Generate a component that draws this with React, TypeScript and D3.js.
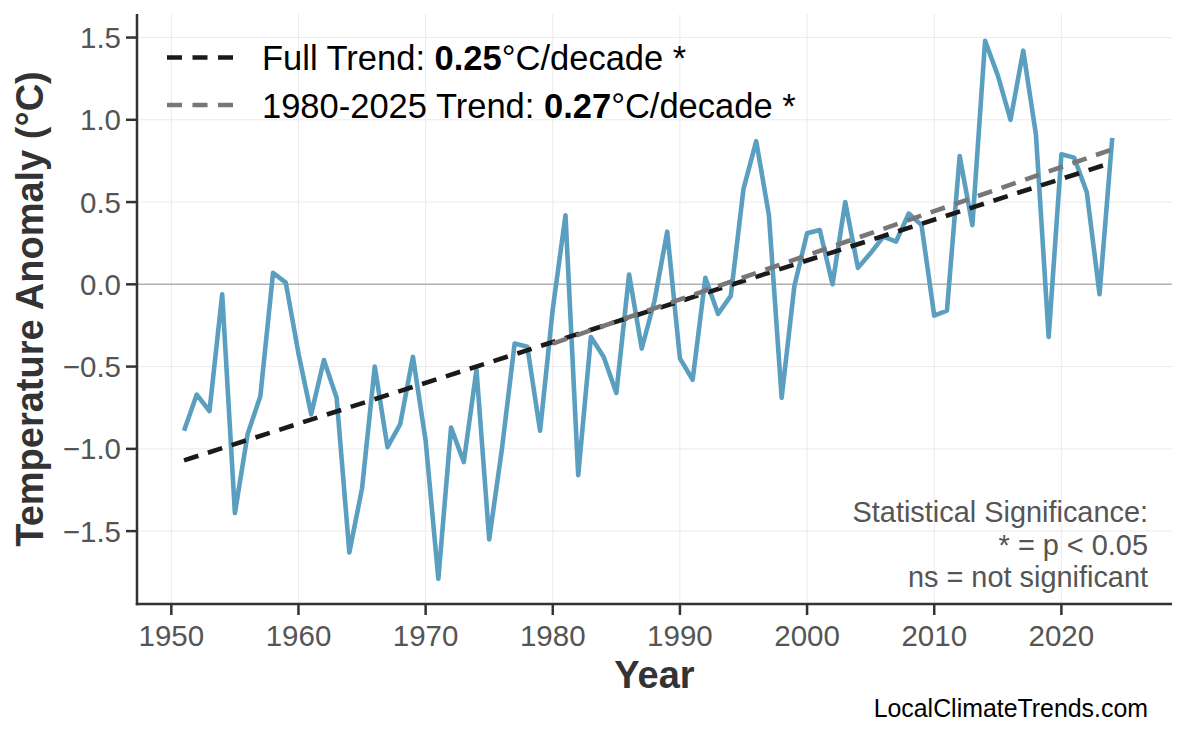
import React from 'react';
import * as d3 from 'd3';

// annual temperature anomaly
const years = [
  1951, 1952, 1953, 1954, 1955, 1956, 1957, 1958, 1959, 1960,
  1961, 1962, 1963, 1964, 1965, 1966, 1967, 1968, 1969, 1970,
  1971, 1972, 1973, 1974, 1975, 1976, 1977, 1978, 1979, 1980,
  1981, 1982, 1983, 1984, 1985, 1986, 1987, 1988, 1989, 1990,
  1991, 1992, 1993, 1994, 1995, 1996, 1997, 1998, 1999, 2000,
  2001, 2002, 2003, 2004, 2005, 2006, 2007, 2008, 2009, 2010,
  2011, 2012, 2013, 2014, 2015, 2016, 2017, 2018, 2019, 2020,
  2021, 2022, 2023, 2024,
];
const anomaly = [
  -0.89, -0.67, -0.77, -0.06, -1.39, -0.91, -0.68, 0.07, 0.01, -0.42,
  -0.79, -0.46, -0.69, -1.63, -1.24, -0.50, -0.99, -0.85, -0.44, -0.95,
  -1.79, -0.87, -1.08, -0.52, -1.55, -1.00, -0.36, -0.38, -0.89, -0.15,
  0.42, -1.16, -0.32, -0.44, -0.66, 0.06, -0.39, -0.10, 0.32, -0.45,
  -0.58, 0.04, -0.18, -0.07, 0.58, 0.87, 0.42, -0.69, -0.01, 0.31,
  0.33, 0.00, 0.50, 0.10, 0.19, 0.29, 0.26, 0.43, 0.36, -0.19,
  -0.16, 0.78, 0.36, 1.48, 1.27, 1.00, 1.42, 0.91, -0.32, 0.79,
  0.77, 0.56, -0.06, 0.89,
];

// trend line end points
const fullTrendYears = [1951, 2024];
const fullTrendValues = [-1.07, 0.74];
const recentTrendYears = [1980, 2024];
const recentTrendValues = [-0.36, 0.82];

const xTicks = [1950, 1960, 1970, 1980, 1990, 2000, 2010, 2020];
const yTicks = [-1.5, -1.0, -0.5, 0.0, 0.5, 1.0, 1.5];

const legendRows = [
  { label: 'Full Trend: ', rate: '0.25', tail: '°C/decade *', color: '#1a1a1a' },
  { label: '1980-2025 Trend: ', rate: '0.27', tail: '°C/decade *', color: '#777777' },
];
const noteLines = ['Statistical Significance:', '* = p < 0.05', 'ns = not significant'];

const W = 1186, H = 737;
const m = { left: 137, right: 1172, top: 14, bottom: 604 };
const font = "'Liberation Sans', Arial, sans-serif";

export default function App() {
  const x = d3.scaleLinear().domain([1947.3, 2028.7]).range([m.left, m.right]);
  const y = d3.scaleLinear().domain([-1.943, 1.643]).range([m.bottom, m.top]);

  const line = d3.line<number>().x((_, i) => x(years[i])).y(d => y(d));
  const trend = (ys: number[]) => d3.line<number>().x((_, i) => x(ys[i])).y(d => y(d));

  const fmtY = (v: number) => d3.format('.1f')(v).replace('-', '\u2212');

  return (
    <div style={{ position: 'absolute', left: 0, top: 0 }}>
      <svg width={W} height={H} style={{ display: 'block', background: '#fff' }} fontFamily={font}>
        {/* grid */}
        {xTicks.map(t => (
          <line key={'gx' + t} x1={x(t)} x2={x(t)} y1={m.top} y2={m.bottom} stroke="#ebebeb" strokeWidth={1} />
        ))}
        {yTicks.map(t => (
          <line key={'gy' + t} x1={m.left} x2={m.right} y1={y(t)} y2={y(t)} stroke="#ebebeb" strokeWidth={1} />
        ))}
        <line x1={m.left} x2={m.right} y1={y(0)} y2={y(0)} stroke="#b0b0b0" strokeWidth={1.6} />

        {/* series */}
        <path d={line(anomaly) || ''} fill="none" stroke="#5a9fc0" strokeWidth={4.6} strokeLinejoin="round" />
        <path d={trend(fullTrendYears)(fullTrendValues) || ''} fill="none" stroke="#1a1a1a" strokeWidth={4.6} strokeDasharray="15 10" />
        <path d={trend(recentTrendYears)(recentTrendValues) || ''} fill="none" stroke="#777777" strokeWidth={4.6} strokeDasharray="15 10" />

        {/* axes */}
        <line x1={m.left} x2={m.left} y1={m.top} y2={m.bottom + 1.25} stroke="#333" strokeWidth={2.5} />
        <line x1={m.left - 1.25} x2={m.right} y1={m.bottom} y2={m.bottom} stroke="#333" strokeWidth={2.5} />
        {xTicks.map(t => (
          <g key={'tx' + t}>
            <line x1={x(t)} x2={x(t)} y1={m.bottom} y2={m.bottom + 11} stroke="#333" strokeWidth={2.5} />
            <text x={x(t)} y={646} textAnchor="middle" fontSize={29.5} fill="#555">{t}</text>
          </g>
        ))}
        {yTicks.map(t => (
          <g key={'ty' + t}>
            <line x1={m.left - 11} x2={m.left} y1={y(t)} y2={y(t)} stroke="#333" strokeWidth={2.5} />
            <text x={121} y={y(t)} dy="0.36em" textAnchor="end" fontSize={29.5} fill="#555">{fmtY(t)}</text>
          </g>
        ))}
        <text x={(m.left + m.right) / 2} y={688} textAnchor="middle" fontSize={38} fontWeight="bold" fill="#333">Year</text>
        <text transform={`translate(43,${(m.top + m.bottom) / 2}) rotate(-90)`} textAnchor="middle" fontSize={38} fontWeight="bold" fill="#333">
          Temperature Anomaly (°C)
        </text>

        {/* legend */}
        {legendRows.map((r, i) => (
          <g key={r.label} transform={`translate(0,${i * 47.5})`}>
            <line x1={167} x2={233} y1={57.5} y2={57.5} stroke={r.color} strokeWidth={4.6} strokeDasharray="15 10.5" />
            <text x={262} y={70} fontSize={34.5} fill="#000">
              {r.label}
              <tspan fontWeight="bold">{r.rate}</tspan>
              {r.tail}
            </text>
          </g>
        ))}

        {/* notes */}
        {noteLines.map((t, i) => (
          <text key={t} x={1148} y={522 + i * 32.5} textAnchor="end" fontSize={28.9} fill="#555">{t}</text>
        ))}
        <text x={1148} y={717} textAnchor="end" fontSize={24.9} fill="#000">LocalClimateTrends.com</text>
      </svg>
    </div>
  );
}
